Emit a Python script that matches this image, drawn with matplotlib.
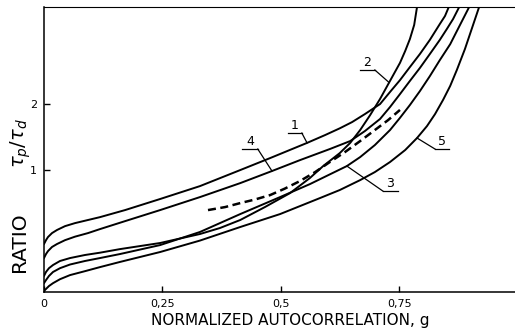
import numpy as np
import matplotlib
matplotlib.use("Agg")
import matplotlib.pyplot as plt
from matplotlib.ticker import NullLocator

# curves: normalized autocorrelation g -> ratio tau_p/tau_d
g1 = [0, 0.0042, 0.0084, 0.0169, 0.0274, 0.0443, 0.0654, 0.0928, 0.118, 0.171,
      0.245, 0.329, 0.414, 0.477, 0.555, 0.593, 0.624, 0.650, 0.677, 0.709,
      0.730, 0.751, 0.772, 0.793, 0.814, 0.835, 0.846, 0.854]
r1 = [0.460, 0.479, 0.495, 0.516, 0.533, 0.555, 0.573, 0.592, 0.610, 0.657,
      0.738, 0.845, 1.0, 1.134, 1.33, 1.444, 1.55, 1.655, 1.80, 2.0,
      2.27, 2.57, 2.95, 3.38, 3.92, 4.63, 5.04, 5.54]

g2 = [0, 0.0042, 0.0105, 0.019, 0.0338, 0.0549, 0.0865, 0.118, 0.160, 0.245,
      0.329, 0.371, 0.414, 0.466, 0.519, 0.561, 0.589, 0.624, 0.646, 0.667,
      0.688, 0.709, 0.730, 0.751, 0.762, 0.772, 0.781, 0.787]
r2 = [0.329, 0.343, 0.357, 0.369, 0.385, 0.397, 0.410, 0.420, 0.436, 0.465,
      0.511, 0.544, 0.592, 0.678, 0.785, 0.920, 1.043, 1.195, 1.33, 1.522,
      1.78, 2.11, 2.55, 3.08, 3.49, 3.96, 4.59, 5.54]

g3 = [0, 0.0042, 0.0105, 0.019, 0.0338, 0.0549, 0.0865, 0.118, 0.160, 0.245,
      0.329, 0.414, 0.498, 0.561, 0.639, 0.667, 0.698, 0.730, 0.751, 0.772,
      0.793, 0.814, 0.835, 0.857, 0.871, 0.884, 0.897]
r3 = [0.305, 0.315, 0.329, 0.343, 0.357, 0.371, 0.385, 0.397, 0.414, 0.455,
      0.522, 0.630, 0.753, 0.863, 1.043, 1.146, 1.30, 1.522, 1.73, 1.98,
      2.29, 2.68, 3.17, 3.75, 4.30, 4.88, 5.54]

g4 = [0, 0.0042, 0.0084, 0.0169, 0.0274, 0.0443, 0.0654, 0.0928, 0.118, 0.171,
      0.245, 0.329, 0.414, 0.481, 0.540, 0.603, 0.646, 0.677, 0.709, 0.730,
      0.751, 0.772, 0.793, 0.814, 0.835, 0.850, 0.863, 0.876]
r4 = [0.397, 0.414, 0.427, 0.446, 0.460, 0.479, 0.497, 0.516, 0.538, 0.585,
      0.657, 0.753, 0.872, 0.990, 1.11, 1.247, 1.356, 1.506, 1.71, 1.938,
      2.22, 2.55, 2.92, 3.38, 3.92, 4.40, 4.88, 5.54]

g5 = [0, 0.0042, 0.0105, 0.019, 0.0338, 0.0549, 0.0865, 0.118, 0.160, 0.245,
      0.329, 0.414, 0.498, 0.582, 0.624, 0.667, 0.698, 0.730, 0.762, 0.787,
      0.808, 0.825, 0.842, 0.857, 0.871, 0.888, 0.903, 0.918]
r5 = [0.281, 0.287, 0.296, 0.305, 0.318, 0.332, 0.346, 0.361, 0.381, 0.423,
      0.477, 0.550, 0.630, 0.745, 0.811, 0.900, 0.979, 1.088, 1.234, 1.40,
      1.587, 1.80, 2.09, 2.42, 2.86, 3.56, 4.44, 5.54]

# dashed curve
g_dash = [0.346, 0.382, 0.414, 0.445, 0.477, 0.508, 0.540, 0.572, 0.603,
          0.635, 0.667, 0.698, 0.726, 0.751]
r_dash = [0.657, 0.678, 0.707, 0.734, 0.769, 0.823, 0.891, 0.979, 1.088,
          1.208, 1.356, 1.522, 1.69, 1.88]

xtick_vals = [0, 0.25, 0.5, 0.75]
xtick_labels = ["0", "0,25", "0,5", "0,75"]
ytick_vals = [1, 2]
ytick_labels = ["1", "2"]

fig = plt.figure(figsize=(5.15, 3.33), dpi=100)
ax = fig.add_axes([44/515, 41/333, 471/515, 285/333])
ax.set_yscale("log")
ax.set_xlim(0, 0.9937)
ax.set_ylim(0.278, 5.54)

solid = dict(color="black", lw=1.4, solid_capstyle="round",
             solid_joinstyle="round")
ax.plot(g1, r1, **solid)
ax.plot(g2, r2, **solid)
ax.plot(g3, r3, **solid)
ax.plot(g4, r4, **solid)
ax.plot(g5, r5, **solid)
ax.plot(g_dash, r_dash, color="black", lw=1.8, dashes=(3.2, 1.8))

# curve labels: number over an underline, leader to the curve
def tag(num, u0, u1, uy, cg, cr, gx, from_right=True):
    ax.plot([u0, u1], [uy, uy], color="black", lw=0.9)
    sx = u1 if from_right else u0
    ax.plot([sx, gx], [uy, np.interp(gx, cg, cr)], color="black", lw=0.9)
    ax.text((u0 + u1) / 2, uy * 1.015, num, ha="center", va="bottom",
            fontsize=9)

tag("1", 0.515, 0.544, 1.475, g1, r1, 0.555)
tag("4", 0.418, 0.451, 1.247, g4, r4, 0.481)
tag("2", 0.667, 0.698, 2.86, g2, r2, 0.728)
tag("3", 0.715, 0.747, 0.802, g3, r3, 0.639, from_right=False)
tag("5", 0.825, 0.854, 1.247, g5, r5, 0.787, from_right=False)

ax.set_xticks(xtick_vals)
ax.set_xticklabels(xtick_labels)
ax.set_yticks(ytick_vals)
ax.set_yticklabels(ytick_labels)
ax.yaxis.set_minor_locator(NullLocator())
ax.xaxis.set_minor_locator(NullLocator())
ax.tick_params(direction="in", length=4, width=1, labelsize=8, pad=5)

for s in ("left", "bottom"):
    ax.spines[s].set_linewidth(1.1)
ax.spines["top"].set_linewidth(0.8)
ax.spines["right"].set_visible(False)

ax.set_xlabel("NORMALIZED AUTOCORRELATION, g", fontsize=11)
ax.xaxis.set_label_coords((290 - 44) / 471, -0.075)

fig.text(25/515, 1 - 242/333, "RATIO", rotation=90, rotation_mode="anchor",
         ha="center", va="baseline", fontsize=14.5)
fig.text(25/515, 1 - 143/333, r"$\tau_p/\tau_d$", rotation=90,
         rotation_mode="anchor", ha="center", va="baseline", fontsize=14)

fig.savefig("out.png", dpi=100)
